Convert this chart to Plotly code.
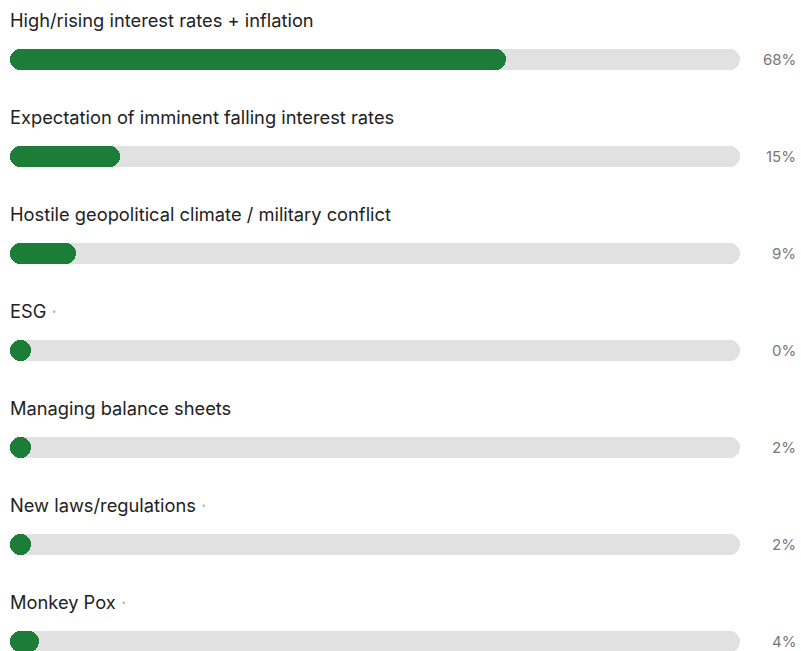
import plotly.graph_objects as go

categories = [
    "High/rising interest rates + inflation",
    "Expectation of imminent falling interest rates",
    "Hostile geopolitical climate / military conflict",
    "ESG",
    "Managing balance sheets",
    "New laws/regulations",
    "Monkey Pox",
]
values = [68, 15, 9, 0, 2, 2, 4]
trailing_dot = [False, False, False, True, False, True, True]

GREEN = "#1b7d37"
TRACK = "#e1e1e1"
W, H = 801, 651
ML, MR = 10, 61
PLOT_W = W - ML - MR
ROW_PX = 97
FIRST_PX = 59
BAR_PX = 21
BAR_W = BAR_PX / ROW_PX
min_units = BAR_PX / PLOT_W * 100

n = len(categories)
ys = list(range(n))

fig = go.Figure()

fig.add_trace(go.Bar(
    y=ys, x=[100] * n, base=[0] * n, orientation="h",
    width=BAR_W, marker=dict(color=TRACK, cornerradius=BAR_PX / 2, line=dict(width=0)),
    hoverinfo="skip", showlegend=False,
))

wids = [max(v, min_units) for v in values]
fig.add_trace(go.Bar(
    y=ys, x=wids, base=[0] * n, orientation="h",
    width=BAR_W, marker=dict(color=GREEN, cornerradius=BAR_PX / 2, line=dict(width=0)),
    hovertext=[f"{c}: {v}%" for c, v in zip(categories, values)], hoverinfo="text",
    showlegend=False,
))

FONT = "Inter, Roboto, Arial"
annotations = []
for i, (c, v, d) in enumerate(zip(categories, values, trailing_dot)):
    txt = c + (" <span style='color:#b0b0b0'>·</span>" if d else "")
    annotations.append(dict(
        x=0, xref="paper", xanchor="left", xshift=-2, y=i, yref="y", yshift=39,
        text=txt, showarrow=False, font=dict(size=18.3, color="#222222", family=FONT),
    ))
    annotations.append(dict(
        x=1, xref="paper", xanchor="right", xshift=MR - 3, y=i, yref="y",
        text=f"{v}%", showarrow=False, font=dict(size=15, color="#777777", family=FONT),
    ))

top = -FIRST_PX / ROW_PX
bottom = (H - FIRST_PX) / ROW_PX
fig.update_layout(
    width=W, height=H, barmode="overlay", bargap=0,
    margin=dict(l=ML, r=MR, t=0, b=0),
    paper_bgcolor="white", plot_bgcolor="white",
    xaxis=dict(range=[0, 100], visible=False, fixedrange=True),
    yaxis=dict(range=[bottom, top], visible=False, fixedrange=True),
    annotations=annotations,
)

fig.write_html("out.html")
